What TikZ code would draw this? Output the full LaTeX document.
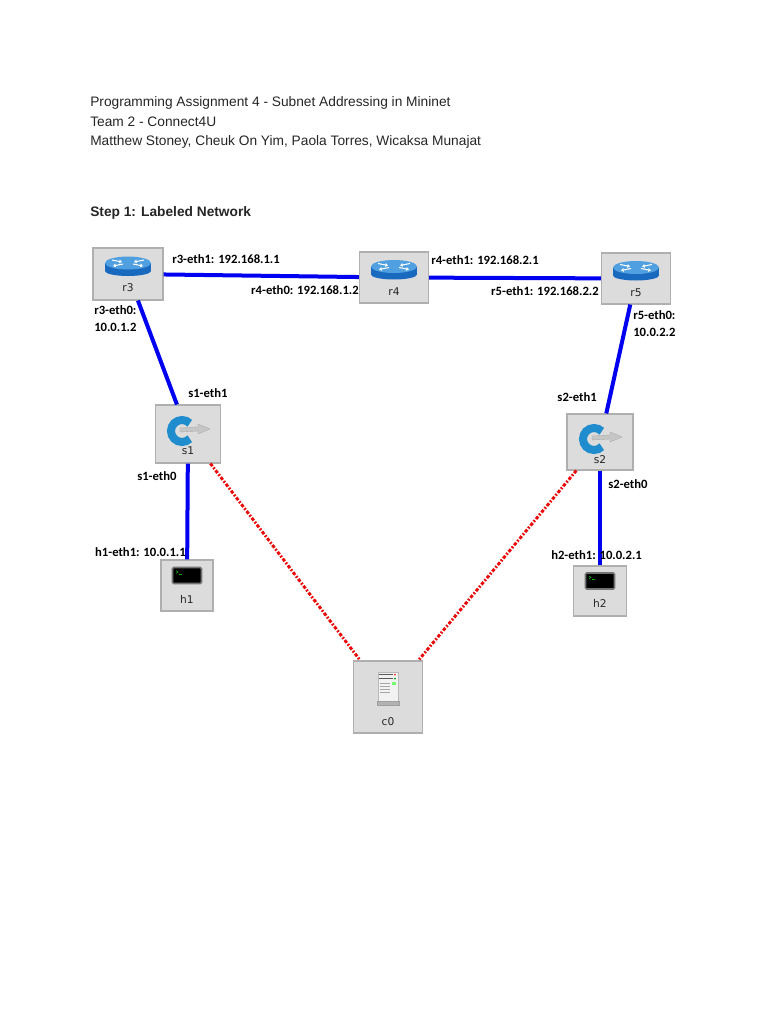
\documentclass[tikz,border=0pt]{standalone}
\usepackage{fontspec}
\setmainfont{Liberation Sans}
\newfontfamily\portfont{Carlito}
\newfontfamily\namefont{DejaVu Sans}
\usetikzlibrary{calc,arrows.meta}

\definecolor{boxgray}{RGB}{220,220,220}
\definecolor{boxedge}{RGB}{175,175,175}
\definecolor{linkblue}{RGB}{0,0,240}
\definecolor{ctrlred}{RGB}{235,10,10}
\definecolor{routertop}{RGB}{80,160,225}
\definecolor{routerside}{RGB}{25,105,190}
\definecolor{switchblue}{RGB}{30,140,205}

\tikzset{
  device/.style={draw=boxedge, fill=boxgray, line width=0.8pt, inner sep=0pt},
  devname/.style={font=\namefont\fontsize{8}{9}\selectfont, text=black!85, inner sep=0pt},
  headline/.style={font=\fontsize{10.3}{13}\selectfont, text=black!85, inner sep=0pt, anchor=base west},
  port/.style={font=\portfont\bfseries\fontsize{9.5}{12.8}\selectfont, inner sep=0pt, align=left},
  link/.style={linkblue, line width=3pt},
  ctrl/.style={ctrlred, line width=2.2pt, dash pattern=on 2.5pt off 1.3pt on 1.3pt off 1.3pt},
  router/.pic={
    \fill[routerside] (-23,-11) rectangle (23,-3);
    \fill[routerside] (0,-3) ellipse [x radius=23, y radius=5];
    \fill[routertop] (0,-11) ellipse [x radius=23, y radius=6.5];
    \draw[white, line width=0.8pt, -{Triangle[length=2pt,width=2.6pt]}] (-16,-14) -- (-6,-12);
    \draw[white, line width=0.8pt, -{Triangle[length=2pt,width=2.6pt]}] (16,-14) -- (6,-12);
    \draw[white, line width=0.8pt, -{Triangle[length=2pt,width=2.6pt]}] (-5,-10) -- (-15,-8);
    \draw[white, line width=0.8pt, -{Triangle[length=2pt,width=2.6pt]}] (5,-10) -- (15,-8);
  },
  switchicon/.pic={
    \fill[gray!45, draw=gray!65, line width=0.3pt] (-8,-6) -- (10,-7) -- (10,-10) -- (22,-5) -- (10,0) -- (10,-3) -- (-8,-2) -- cycle;
    \draw[switchblue, line width=6pt] (-6,-3) ++(45:11) arc [start angle=45, end angle=315, radius=11];
  },
  hosticon/.pic={
    \draw[fill=black, draw=black!55, line width=1.2pt, rounded corners=1pt] (-14.5,-18) rectangle (14.5,-2);
    \draw[green!70!black, line width=0.4pt] (-11,-15) -- (-9,-13.5) -- (-11,-12);
    \draw[green!70!black, line width=0.4pt] (-8,-11.5) -- (-5,-11.5);
  },
  servericon/.pic={
    \fill[gray!10, draw=gray!55, line width=0.4pt] (-10,-25) rectangle (10,4);
    \fill[black!65] (-9,-23) rectangle (5,-21.8);
    \fill[black!65] (-9,-19) rectangle (5,-17.8);
    \fill[red!80] (7,-22.3) circle [radius=1];
    \fill[green!60!black] (7,-18.3) circle [radius=1];
    \foreach \yy in {-14,-11,-8,-5} \draw[gray!70, line width=0.5pt] (-8,\yy) -- (2,\yy);
    \fill[green!55] (4,-15) rectangle (8,-12);
    \fill[gray!60, draw=gray!75] (-11,4) rectangle (11,8);
  },
}

\begin{document}
\begin{tikzpicture}[x=0.75pt, y=-0.75pt]
  \fill[white] (0,0) rectangle (768,1024);
  \useasboundingbox (0,0) rectangle (768,1024);

  % heading
  \node[headline] (title) at (90,107) {Programming Assignment 4 - Subnet Addressing in Mininet};
  \node[headline] (team) at (90,126) {Team 2 - Connect4U};
  \node[headline] (members) at (90,145) {Matthew Stoney, Cheuk On Yim, Paola Torres, Wicaksa Munajat};
  \node[headline, font=\bfseries\fontsize{10.3}{13}\selectfont] (step) at (90,216) {Step 1: Labeled Network};

  % devices
  \node[device, minimum width=52.5pt, minimum height=39pt] (r3) at (128,274) {};
  \node[device, minimum width=51.75pt, minimum height=38.25pt] (r4) at (394,277.5) {};
  \node[device, minimum width=51.75pt, minimum height=38.25pt] (r5) at (636,278.5) {};
  \node[device, minimum width=48.75pt, minimum height=43.5pt] (s1) at (188,434) {};
  \node[device, minimum width=49.5pt, minimum height=42pt] (s2) at (600,442) {};
  \node[device, minimum width=39pt, minimum height=38.25pt] (h1) at (187,585.5) {};
  \node[device, minimum width=39.75pt, minimum height=37.5pt] (h2) at (600,591) {};
  \node[device, minimum width=51.75pt, minimum height=54pt] (c0) at (388,697) {};

  \pic at (r3) {router};
  \pic at (r4) {router};
  \pic at (r5) {router};
  \pic at (s1) {switchicon};
  \pic at (s2) {switchicon};
  \pic at (h1) {hosticon};
  \pic at (h2) {hosticon};
  \pic at (c0) {servericon};

  \node[devname] (r3name) at ($(r3)+(0,13.5)$) {r3};
  \node[devname] (r4name) at ($(r4)+(0,14.5)$) {r4};
  \node[devname] (r5name) at ($(r5)+(0,14.5)$) {r5};
  \node[devname] (s1name) at ($(s1)+(0,17)$) {s1};
  \node[devname] (s2name) at ($(s2)+(0,18)$) {s2};
  \node[devname] (h1name) at ($(h1)+(0,13.5)$) {h1};
  \node[devname] (h2name) at ($(h2)+(0,12)$) {h2};
  \node[devname] (c0name) at ($(c0)+(0,25)$) {c0};

  % links
  \draw[link] (r3) -- (r4);
  \draw[link] (r4) -- (r5);
  \draw[link] (r3) -- (s1);
  \draw[link] (r5) -- (s2);
  \draw[link] (s1) -- (h1);
  \draw[link] (s2) -- (h2);
  \draw[ctrl] (s1) -- (c0);
  \draw[ctrl] (s2) -- (c0);

  % port labels
  \node[port, anchor=west] (r3e1) at (172,259) {r3-eth1: 192.168.1.1};
  \node[port, anchor=east] (r4e0) at (359,290) {r4-eth0: 192.168.1.2};
  \node[port, anchor=west] (r4e1) at (431,260) {r4-eth1: 192.168.2.1};
  \node[port, anchor=east] (r5e1) at (599,291) {r5-eth1: 192.168.2.2};
  \node[port, anchor=west] (r3e0) at (94,318.5) {r3-eth0:\\10.0.1.2};
  \node[port, anchor=west] (r5e0) at (633,324) {r5-eth0:\\10.0.2.2};
  \node[port, anchor=west] (s1e1) at (188,393) {s1-eth1};
  \node[port, anchor=west] (s1e0) at (137,476) {s1-eth0};
  \node[port, anchor=east] (s2e1) at (597,397) {s2-eth1};
  \node[port, anchor=west] (s2e0) at (608,484) {s2-eth0};
  \node[port, anchor=east] (h1e1) at (186,552) {h1-eth1: 10.0.1.1};
  \node[port, anchor=west] (h2e1) at (551,555) {h2-eth1: 10.0.2.1};
\end{tikzpicture}
\end{document}
